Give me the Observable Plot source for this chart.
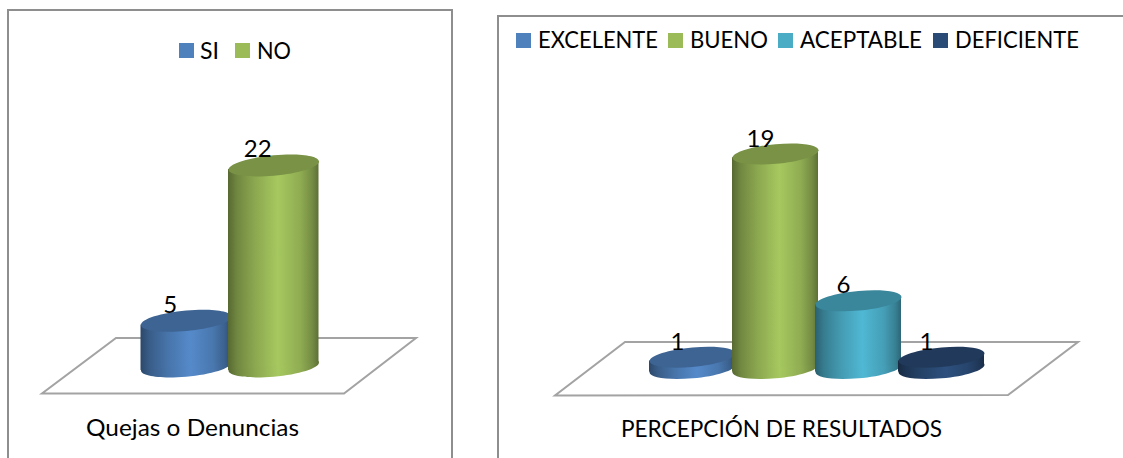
<!DOCTYPE html>
<html>
<head>
<meta charset="utf-8">
<script src="https://cdn.jsdelivr.net/npm/d3@7"></script>
<script src="https://cdn.jsdelivr.net/npm/@observablehq/plot@0.6"></script>
<style>
  html, body { margin: 0; padding: 0; background: #fff; overflow: hidden; width: 1123px; height: 458px; }
  #page { position: relative; width: 1123px; height: 458px; overflow: hidden; font-family: Lato, "Open Sans", sans-serif; color: #000; }
  #page svg { position: absolute; left: 0; top: 0; background: transparent; overflow: visible; }
  .frame { position: absolute; border: 2px solid #8e8e8e; box-sizing: border-box; }
  .swatch { position: absolute; width: 15px; height: 15px; }
  .lbl { position: absolute; white-space: nowrap; transform-origin: 0 50%; line-height: 1; font-size: 24px; }
</style>
</head>
<body>
<div id="page"></div>
<script>
// ---- data ----
const quejasCategories = ["SI", "NO"];
const quejasValues = [5, 22];
const quejasColors = ["#4f81bd", "#9bbb59"];
const quejasTitle = "Quejas o Denuncias";

const percepcionCategories = ["EXCELENTE", "BUENO", "ACEPTABLE", "DEFICIENTE"];
const percepcionValues = [1, 19, 6, 1];
const percepcionColors = ["#4f81bd", "#9bbb59", "#4bacc6", "#2a4b76"];
const percepcionTitle = "PERCEPCIÓN DE RESULTADOS";

// ---- layout ----
const page = document.getElementById("page");
const SHEAR = -0.09;

function addFrame(l, t, w, h) {
  const d = document.createElement("div");
  d.className = "frame";
  d.style.cssText = `left:${l}px;top:${t}px;width:${w}px;height:${h}px`;
  page.appendChild(d);
}
function addLabel(text, x, cy, width) {
  const s = document.createElement("span");
  s.className = "lbl";
  s.textContent = text;
  s.style.left = x + "px";
  page.appendChild(s);
  const r = s.getBoundingClientRect();
  s.style.top = (cy - r.height / 2) + "px";
  s.style.transform = `scaleX(${width / r.width})`;
}
function addSwatch(color, x, y) {
  const d = document.createElement("div");
  d.className = "swatch";
  d.style.cssText = `left:${x}px;top:${y}px;background:${color}`;
  page.appendChild(d);
}

// A sheared ellipse, the cap of a cylinder seen from above.
function capSymbol(a, b, k) {
  const c = 0.5522848;
  const p = (x, y) => [x, y + k * x];
  return {
    draw(ctx) {
      ctx.moveTo(...p(-a, 0));
      ctx.bezierCurveTo(...p(-a, -c * b), ...p(-c * a, -b), ...p(0, -b));
      ctx.bezierCurveTo(...p(c * a, -b), ...p(a, -c * b), ...p(a, 0));
      ctx.bezierCurveTo(...p(a, c * b), ...p(c * a, b), ...p(0, b));
      ctx.bezierCurveTo(...p(-c * a, b), ...p(-a, c * b), ...p(-a, 0));
      ctx.closePath();
    }
  };
}

function cylinderChart({id, categories, values, colors, xRange, yMax, yRange, width, capB, extra, floor, dx, dy}) {
  const rows = categories.map((category, i) => ({category, value: values[i], color: colors[i], i}));
  const step = (xRange[1] - xRange[0]) / categories.length;
  const cap = capSymbol(step / 2 + extra, capB, SHEAR);
  const gradId = i => `${id}-grad-${i}`;
  const marks = [
    () => {
      const path = d3.create("svg:path")
        .attr("d", "M" + floor.map(p => p.join(",")).join("L") + "Z")
        .attr("fill", "none").attr("stroke", "#a3a3a3").attr("stroke-width", 2);
      return path.node();
    }
  ];
  for (const r of rows) {
    const one = [r];
    const top = d3.color(r.color);
    const dark = d3.rgb(top.r * 0.779, top.g * 0.779, top.b * 0.779).formatHex();
    marks.push(
      Plot.dot(one, {x: "category", y: () => 0, symbol: cap, fill: `url(#${gradId(r.i)})`}),
      Plot.barY(one, {x: "category", y: "value", fill: `url(#${gradId(r.i)})`, insetLeft: -extra, insetRight: -extra, ariaLabel: "cylinder"}),
      Plot.dot(one, {x: "category", y: "value", symbol: cap, fill: dark})
    );
  }
  marks.push(Plot.text(rows, {x: "category", y: "value", text: d => String(d.value), dx, dy, fontSize: 24, fontFamily: "Lato, sans-serif", fill: "#000"}));
  const svg = Plot.plot({
    width, height: 458, margin: 0,
    style: {background: "transparent"},
    x: {type: "band", domain: categories, range: xRange, padding: 0, round: false, axis: null},
    y: {domain: [0, yMax], range: yRange, axis: null},
    marks
  });
  // horizontal shading for the cylinder sides
  const defs = d3.create("svg:defs");
  rows.forEach(r => {
    const c = d3.rgb(r.color);
    const g = defs.append("linearGradient").attr("id", gradId(r.i)).attr("x1", 0).attr("x2", 1).attr("y1", 0).attr("y2", 0);
    [[0, .56], [.1, .72], [.3, .9], [.55, 1.07], [.8, .92], [.93, .75], [1, .6]].forEach(([o, f]) => {
      g.append("stop").attr("offset", o).attr("stop-color",
        d3.rgb(Math.min(255, c.r * f), Math.min(255, c.g * f), Math.min(255, c.b * f)).formatHex());
    });
  });
  svg.insertBefore(defs.node(), svg.firstChild);
  // shear each side to line up with its tilted caps
  svg.querySelectorAll("rect").forEach(rect => {
    const cx = +rect.getAttribute("x") + (+rect.getAttribute("width")) / 2;
    if (Number.isFinite(cx)) rect.setAttribute("transform", `matrix(1 ${SHEAR} 0 1 0 ${-SHEAR * cx})`);
  });
  page.appendChild(svg);
}

// ---- left chart ----
addFrame(7, 9, 446, 520);
cylinderChart({
  id: "q", categories: quejasCategories, values: quejasValues, colors: quejasColors,
  xRange: [142, 317], yMax: 22, yRange: [366, 165], width: 460, capB: 10.2, extra: 1.5,
  floor: [[116, 338], [416, 338], [344, 393.5], [42, 393.5]], dx: -16, dy: -16
});
addSwatch(quejasColors[0], 179, 43);
addSwatch(quejasColors[1], 235, 43);
addLabel(quejasCategories[0], 200, 49.5, 19);
addLabel(quejasCategories[1], 257, 49.5, 34);
addLabel(quejasTitle, 86, 427, 213);

// ---- right chart ----
addFrame(497, 15, 700, 520);
cylinderChart({
  id: "p", categories: percepcionCategories, values: percepcionValues, colors: percepcionColors,
  xRange: [650.5, 982.5], yMax: 19, yRange: [368, 153.5], width: 1123, capB: 9.8, extra: 1.5,
  floor: [[625, 342], [1078, 342], [1008, 395], [555, 395.5]], dx: -15, dy: -15
});
addSwatch(percepcionColors[0], 516, 33);
addSwatch(percepcionColors[1], 668, 33);
addSwatch(percepcionColors[2], 778, 33);
addSwatch(percepcionColors[3], 933, 33);
addLabel(percepcionCategories[0], 538, 38.5, 120);
addLabel(percepcionCategories[1], 690, 38.5, 78);
addLabel(percepcionCategories[2], 800, 38.5, 122);
addLabel(percepcionCategories[3], 955, 38.5, 124);
addLabel(percepcionTitle, 621, 428, 321);
</script>
</body>
</html>
